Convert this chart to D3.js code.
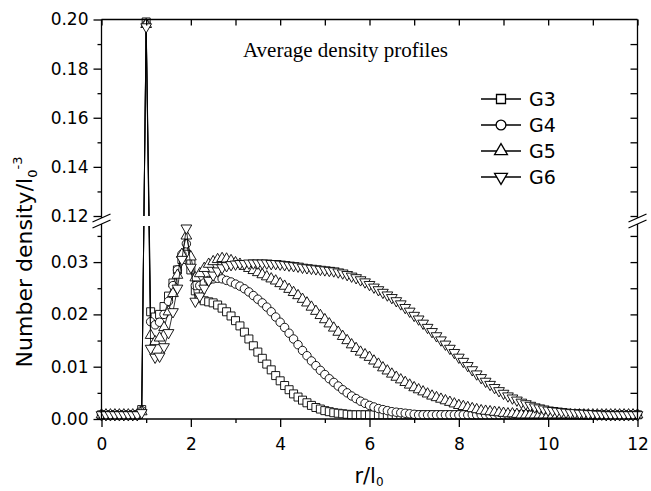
<!DOCTYPE html>
<html>
<head>
<meta charset="utf-8">
<script src="https://cdn.jsdelivr.net/npm/d3@7"></script>
<style>
body { margin: 0; background: #fff; }
svg { display: block; }
text { font-family: "DejaVu Sans", sans-serif; fill: #000; }
</style>
</head>
<body>
<svg width="651" height="491"></svg>
<script>
// sample positions r/l0
let rValues = [
  0.0, 0.1, 0.2, 0.3, 0.4, 0.5, 0.6, 0.7, 0.8, 0.9,
  1.0, 1.1, 1.2, 1.3, 1.4, 1.5, 1.6, 1.7, 1.8, 1.9,
  2.0, 2.1, 2.2, 2.3, 2.4, 2.5, 2.6, 2.7, 2.8, 2.9,
  3.0, 3.1, 3.2, 3.3, 3.4, 3.5, 3.6, 3.7, 3.8, 3.9,
  4.0, 4.1, 4.2, 4.3, 4.4, 4.5, 4.6, 4.7, 4.8, 4.9,
  5.0, 5.1, 5.2, 5.3, 5.4, 5.5, 5.6, 5.7, 5.8, 5.9,
  6.0, 6.1, 6.2, 6.3, 6.4, 6.5, 6.6, 6.7, 6.8, 6.9,
  7.0, 7.1, 7.2, 7.3, 7.4, 7.5, 7.6, 7.7, 7.8, 7.9,
  8.0, 8.1, 8.2, 8.3, 8.4, 8.5, 8.6, 8.7, 8.8, 8.9,
  9.0, 9.1, 9.2, 9.3, 9.4, 9.5, 9.6, 9.7, 9.8, 9.9,
  10.0, 10.1, 10.2, 10.3, 10.4, 10.5, 10.6, 10.7, 10.8, 10.9,
  11.0, 11.1, 11.2, 11.3, 11.4, 11.5, 11.6, 11.7, 11.8, 11.9,
  12.0
];

let g3 = [
  0.0008, 0.0008, 0.0008, 0.0008, 0.0008, 0.0008, 0.0008, 0.0008, 0.0008, 0.0018,
  0.199, 0.0205, 0.0195, 0.0200, 0.0215, 0.0235, 0.0260, 0.0285, 0.0305, 0.0315,
  0.0285, 0.0245, 0.0230, 0.0226, 0.0224, 0.0222, 0.0218, 0.0212, 0.0205, 0.0197,
  0.0188, 0.0178, 0.0166, 0.0153, 0.0140, 0.0128, 0.0116, 0.0105, 0.0094, 0.0083,
  0.0073, 0.0064, 0.0056, 0.0048, 0.0042, 0.0036, 0.0031, 0.0026, 0.0022, 0.0019,
  0.0016, 0.0014, 0.0012, 0.0011, 0.0010, 0.0009, 0.0008, 0.0008, 0.0008, 0.0008,
  0.0008, 0.0008, 0.0008, 0.0008, 0.0008, 0.0008, 0.0008, 0.0008, 0.0008, 0.0008,
  0.0008, 0.0008, 0.0008, 0.0008, 0.0008, 0.0008, 0.0008, 0.0008, 0.0008, 0.0008,
  0.0008, 0.0008, 0.0008, 0.0008, 0.0008, 0.0008, 0.0008, 0.0008, 0.0008, 0.0008,
  0.0008, 0.0008, 0.0008, 0.0008, 0.0008, 0.0008, 0.0008, 0.0008, 0.0008, 0.0008,
  0.0008, 0.0008, 0.0008, 0.0008, 0.0008, 0.0008, 0.0008, 0.0008, 0.0008, 0.0008,
  0.0008, 0.0008, 0.0008, 0.0008, 0.0008, 0.0008, 0.0008, 0.0008, 0.0008, 0.0008,
  0.0008
];

let g4 = [
  0.0008, 0.0008, 0.0008, 0.0008, 0.0008, 0.0008, 0.0008, 0.0008, 0.0008, 0.0016,
  0.198, 0.0186, 0.0180, 0.0185, 0.0200, 0.0225, 0.0255, 0.0285, 0.0315, 0.0335,
  0.0300, 0.0255, 0.0255, 0.0260, 0.0265, 0.0268, 0.0269, 0.0268, 0.0265, 0.0262,
  0.0258, 0.0254, 0.0249, 0.0243, 0.0236, 0.0229, 0.0222, 0.0214, 0.0205, 0.0195,
  0.0185, 0.0175, 0.0164, 0.0153, 0.0142, 0.0131, 0.0121, 0.0111, 0.0102, 0.0093,
  0.0085, 0.0077, 0.0070, 0.0063, 0.0056, 0.0050, 0.0044, 0.0039, 0.0034, 0.0030,
  0.0026, 0.0023, 0.0020, 0.0018, 0.0016, 0.0014, 0.0013, 0.0012, 0.0011, 0.0010,
  0.0009, 0.0008, 0.0008, 0.0008, 0.0008, 0.0008, 0.0008, 0.0008, 0.0008, 0.0008,
  0.0008, 0.0008, 0.0008, 0.0008, 0.0008, 0.0008, 0.0008, 0.0008, 0.0008, 0.0008,
  0.0008, 0.0008, 0.0008, 0.0008, 0.0008, 0.0008, 0.0008, 0.0008, 0.0008, 0.0008,
  0.0008, 0.0008, 0.0008, 0.0008, 0.0008, 0.0008, 0.0008, 0.0008, 0.0008, 0.0008,
  0.0008, 0.0008, 0.0008, 0.0008, 0.0008, 0.0008, 0.0008, 0.0008, 0.0008, 0.0008,
  0.0008
];

let g5 = [
  0.0008, 0.0008, 0.0008, 0.0008, 0.0008, 0.0008, 0.0008, 0.0008, 0.0008, 0.0014,
  0.198, 0.0160, 0.0148, 0.0155, 0.0175, 0.0205, 0.0240, 0.0275, 0.0315, 0.0350,
  0.0310, 0.0270, 0.0278, 0.0288, 0.0296, 0.0301, 0.0305, 0.0307, 0.0306, 0.0303,
  0.0299, 0.0296, 0.0292, 0.0288, 0.0284, 0.0280, 0.0276, 0.0272, 0.0268, 0.0264,
  0.0259, 0.0254, 0.0248, 0.0242, 0.0236, 0.0229, 0.0222, 0.0214, 0.0206, 0.0198,
  0.0190, 0.0182, 0.0174, 0.0166, 0.0158, 0.0150, 0.0142, 0.0135, 0.0128, 0.0123,
  0.0118, 0.0111, 0.0105, 0.0098, 0.0092, 0.0086, 0.0080, 0.0075, 0.0070, 0.0065,
  0.0060, 0.0056, 0.0052, 0.0048, 0.0044, 0.0041, 0.0038, 0.0035, 0.0032, 0.0029,
  0.0026, 0.0024, 0.0022, 0.0020, 0.0018, 0.0016, 0.0015, 0.0014, 0.0013, 0.0012,
  0.0011, 0.0010, 0.0010, 0.0009, 0.0008, 0.0008, 0.0008, 0.0008, 0.0008, 0.0008,
  0.0008, 0.0008, 0.0008, 0.0008, 0.0008, 0.0008, 0.0008, 0.0008, 0.0008, 0.0008,
  0.0008, 0.0008, 0.0008, 0.0008, 0.0008, 0.0008, 0.0008, 0.0008, 0.0008, 0.0008,
  0.0008
];

let g6 = [
  0.0008, 0.0008, 0.0008, 0.0008, 0.0008, 0.0008, 0.0008, 0.0008, 0.0008, 0.0012,
  0.197, 0.0135, 0.0118, 0.0120, 0.0138, 0.0165, 0.0205, 0.0250, 0.0305, 0.0365,
  0.0290, 0.0225, 0.0235, 0.0250, 0.0265, 0.0275, 0.0283, 0.0289, 0.0293, 0.0295,
  0.0296, 0.0297, 0.0297, 0.0298, 0.0298, 0.0298, 0.0298, 0.0298, 0.0297, 0.0297,
  0.0296, 0.0295, 0.0294, 0.0293, 0.0292, 0.0290, 0.0289, 0.0288, 0.0287, 0.0286,
  0.0285, 0.0284, 0.0283, 0.0281, 0.0279, 0.0276, 0.0273, 0.0270, 0.0266, 0.0262,
  0.0257, 0.0252, 0.0247, 0.0242, 0.0237, 0.0232, 0.0226, 0.0220, 0.0213, 0.0206,
  0.0198, 0.0191, 0.0183, 0.0175, 0.0167, 0.0159, 0.0151, 0.0143, 0.0135, 0.0127,
  0.0118, 0.0110, 0.0102, 0.0094, 0.0086, 0.0079, 0.0072, 0.0066, 0.0060, 0.0054,
  0.0049, 0.0044, 0.0040, 0.0036, 0.0032, 0.0029, 0.0026, 0.0023, 0.0021, 0.0019,
  0.0017, 0.0016, 0.0015, 0.0014, 0.0013, 0.0012, 0.0012, 0.0011, 0.0011, 0.0010,
  0.0010, 0.0009, 0.0009, 0.0008, 0.0008, 0.0008, 0.0008, 0.0008, 0.0008, 0.0008,
  0.0008
];

let seriesNames = ["G3", "G4", "G5", "G6"];
let seriesValues = [g3, g4, g5, g6];
let seriesSymbols = ["square", "circle", "up", "down"];

let xTicks = [0, 2, 4, 6, 8, 10, 12];
let xMinorTicks = [1, 3, 5, 7, 9, 11];
let yLowTicks = [0, 0.01, 0.02, 0.03];
let yLowMinor = [0.005, 0.015, 0.025, 0.035];
let yHighTicks = [0.12, 0.14, 0.16, 0.18, 0.20];
let yHighMinor = [0.13, 0.15, 0.17, 0.19];

let plotLeft = 101.5, plotRight = 637.5, plotTop = 19.5, plotBottom = 419;
let lowTop = 226, highBottom = 216;  // the axis break

let svg = d3.select("svg");

let x = d3.scaleLinear().domain([0, 12]).range([plotLeft, plotRight]);
// broken axis: lower panel 0..0.0369, upper panel 0.12..0.20
let y = d3.scaleLinear()
  .domain([0, 0.0369, 0.12, 0.20])
  .range([plotBottom, lowTop, highBottom, plotTop]);

let defs = svg.append("defs");
defs.append("clipPath").attr("id", "clipLow")
  .append("rect").attr("x", plotLeft).attr("y", lowTop).attr("width", plotRight - plotLeft).attr("height", plotBottom - lowTop + 2);
defs.append("clipPath").attr("id", "clipHigh")
  .append("rect").attr("x", plotLeft).attr("y", plotTop).attr("width", plotRight - plotLeft).attr("height", highBottom - plotTop);

// ---- series ----
let line = d3.line().x(d => x(d[0])).y(d => y(d[1]));
let symbolGen = {
  square: d3.symbol().type(d3.symbolSquare).size(64),
  circle: d3.symbol().type(d3.symbolCircle).size(56),
  up: d3.symbol().type(d3.symbolTriangle).size(50),
  down: d3.symbol().type(d3.symbolTriangle).size(50)
};

seriesValues.forEach((vals, k) => {
  let pts = rValues.map((r, i) => [r, vals[i]]);
  let g = svg.append("g").attr("class", "series");
  ["clipLow", "clipHigh"].forEach(c => {
    g.append("path")
      .attr("clip-path", `url(#${c})`)
      .attr("d", line(pts))
      .attr("fill", "none")
      .attr("stroke", "#000")
      .attr("stroke-width", 0.8);
  });
  let sym = seriesSymbols[k];
  g.selectAll(".mk")
    .data(pts)
    .enter()
    .append("path")
    .attr("class", "mk")
    .attr("d", symbolGen[sym])
    .attr("transform", d => `translate(${x(d[0])},${y(d[1])})` + (sym == "down" ? " rotate(180)" : ""))
    .attr("fill", "#fff")
    .attr("stroke", "#000")
    .attr("stroke-width", 0.9);
});

// ---- frame ----
let frame = svg.append("g").attr("stroke", "#000").attr("stroke-width", 1.3).attr("fill", "none");
frame.append("line").attr("x1", plotLeft).attr("x2", plotRight).attr("y1", plotTop).attr("y2", plotTop);
frame.append("line").attr("x1", plotLeft).attr("x2", plotRight).attr("y1", plotBottom).attr("y2", plotBottom);
[plotLeft, plotRight].forEach(xx => {
  frame.append("line").attr("x1", xx).attr("x2", xx).attr("y1", plotTop).attr("y2", highBottom + 2);
  frame.append("line").attr("x1", xx).attr("x2", xx).attr("y1", lowTop - 2).attr("y2", plotBottom);
  // break marks
  [highBottom + 2, lowTop - 2].forEach(yy => {
    frame.append("line").attr("x1", xx - 9).attr("y1", yy + 4).attr("x2", xx + 9).attr("y2", yy - 4);
  });
});

function styleAxis(g) {
  g.select(".domain").remove();
  g.selectAll(".tick line").attr("stroke", "#000").attr("stroke-width", 1.3);
  g.selectAll(".tick text").style("font-size", "17px").attr("fill", "#000");
}

// bottom
svg.append("g").attr("transform", `translate(0,${plotBottom})`)
  .call(d3.axisBottom(x).tickValues(xTicks).tickSize(8).tickPadding(11).tickFormat(d3.format("d")))
  .call(styleAxis);
svg.append("g").attr("transform", `translate(0,${plotBottom})`)
  .call(d3.axisBottom(x).tickValues(xMinorTicks).tickSize(4).tickFormat(""))
  .call(styleAxis);
// top (ticks inward)
svg.append("g").attr("transform", `translate(0,${plotTop})`)
  .call(d3.axisTop(x).tickValues(xTicks.concat(xMinorTicks)).tickSize(-6).tickFormat(""))
  .call(styleAxis);

// left
svg.append("g").attr("transform", `translate(${plotLeft},0)`)
  .call(d3.axisLeft(y).tickValues(yLowTicks).tickSize(8).tickPadding(5).tickFormat(d3.format(".2f")))
  .call(styleAxis);
svg.append("g").attr("transform", `translate(${plotLeft},0)`)
  .call(d3.axisLeft(y).tickValues(yHighTicks).tickSize(8).tickPadding(5).tickFormat(d3.format(".2f")))
  .call(styleAxis);
svg.append("g").attr("transform", `translate(${plotLeft},0)`)
  .call(d3.axisLeft(y).tickValues(yLowMinor.concat(yHighMinor)).tickSize(4).tickFormat(""))
  .call(styleAxis);
// right (ticks inward)
svg.append("g").attr("transform", `translate(${plotRight},0)`)
  .call(d3.axisRight(y).tickValues(yLowTicks.slice(1).concat(yLowMinor, yHighTicks.slice(0, 4), yHighMinor)).tickSize(-7).tickFormat(""))
  .call(styleAxis);

// ---- labels ----
let yTitle = svg.append("text")
  .attr("transform", "translate(32,262) rotate(-90)")
  .attr("text-anchor", "middle")
  .style("font-size", "22px");
yTitle.append("tspan").text("Number density/l");
yTitle.append("tspan").text("0").style("font-size", "13px").attr("dy", 5);
yTitle.append("tspan").text("-3").style("font-size", "13px").attr("dy", -15);

let xTitle = svg.append("text")
  .attr("x", 369).attr("y", 483)
  .attr("text-anchor", "middle")
  .style("font-size", "21px");
xTitle.append("tspan").text("r/l");
xTitle.append("tspan").text("0").style("font-size", "12px").attr("dy", 3);

svg.append("text")
  .attr("x", 243).attr("y", 57)
  .style("font-family", "'Liberation Serif', 'Times New Roman', serif")
  .style("font-size", "21px")
  .text("Average density profiles");

// ---- legend ----
let legendY = [99, 125, 151, 177];
let legend = svg.append("g");
seriesNames.forEach((name, k) => {
  let row = legend.append("g").attr("transform", `translate(481,${legendY[k]})`);
  row.append("line").attr("x1", 0).attr("x2", 40).attr("y1", 0).attr("y2", 0)
    .attr("stroke", "#000").attr("stroke-width", 1.3);
  let sym = seriesSymbols[k];
  row.append("path")
    .attr("d", d3.symbol().type(sym == "square" ? d3.symbolSquare : sym == "circle" ? d3.symbolCircle : d3.symbolTriangle).size(sym == "square" ? 81 : sym == "circle" ? 75 : 72)())
    .attr("transform", `translate(20,0)` + (sym == "down" ? " rotate(180)" : ""))
    .attr("fill", "#fff").attr("stroke", "#000").attr("stroke-width", 1.3);
  row.append("text").attr("x", 48).attr("y", 0).attr("dy", "0.36em")
    .style("font-size", "19px").text(name);
});
</script>
</body>
</html>
